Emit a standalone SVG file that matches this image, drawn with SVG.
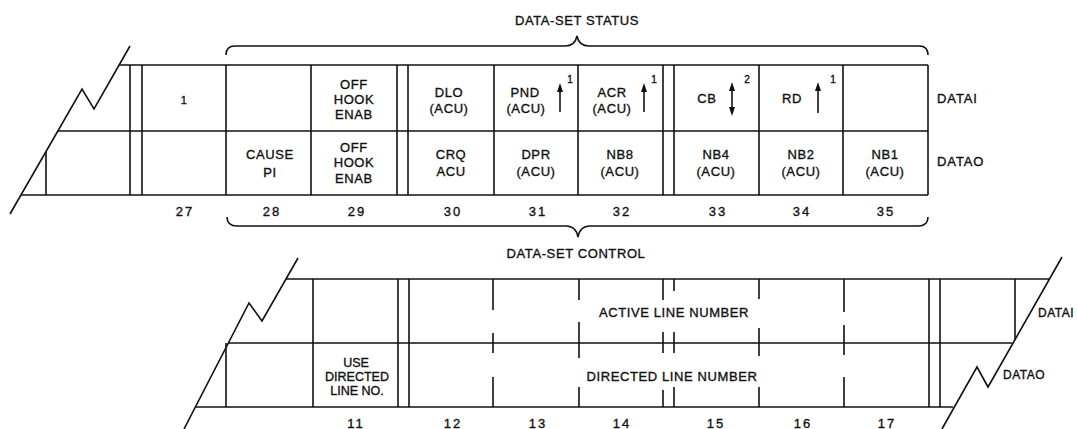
<svg xmlns="http://www.w3.org/2000/svg" width="1077" height="429" viewBox="0 0 1077 429">
<style>
.ln{stroke:#111;stroke-width:1.6;fill:none;stroke-linejoin:miter}
.t{font-family:"Liberation Sans",Arial,sans-serif;font-size:13px;letter-spacing:0.6px;fill:#111;stroke:#111;stroke-width:0.35px;text-anchor:middle}
.num{letter-spacing:2px}
.sup{font-size:10px;letter-spacing:0}
.lab{text-anchor:start;letter-spacing:0.9px}
.lab2{font-size:12px;text-anchor:start;letter-spacing:0.5px}
.ah{fill:#111;stroke:none}
</style>
<rect width="1077" height="429" fill="#fff"/>

<!-- ===== TOP REGISTER (DATAI / DATAO bits 27-35) ===== -->
<g id="top-frame" class="ln">
  <polyline points="10,214 82,89 94,109 130,46"/>
  <line x1="119" y1="65" x2="928" y2="65"/>
  <line x1="58" y1="131" x2="928" y2="131"/>
  <line x1="21" y1="195" x2="928" y2="195"/>
  <line x1="46" y1="152" x2="46" y2="195"/>
  <line x1="130" y1="65" x2="130" y2="195"/>
  <line x1="142" y1="65" x2="142" y2="195"/>
  <line x1="226" y1="65" x2="226" y2="195"/>
  <line x1="311" y1="65" x2="311" y2="195"/>
  <line x1="397" y1="65" x2="397" y2="195"/>
  <line x1="408" y1="65" x2="408" y2="195"/>
  <line x1="494" y1="65" x2="494" y2="195"/>
  <line x1="578" y1="65" x2="578" y2="195"/>
  <line x1="663" y1="65" x2="663" y2="195"/>
  <line x1="674" y1="65" x2="674" y2="195"/>
  <line x1="759" y1="65" x2="759" y2="195"/>
  <line x1="843" y1="65" x2="843" y2="195"/>
  <line x1="928" y1="65" x2="928" y2="195"/>
</g>

<g id="bit27">
  <text class="t" x="184" y="104" style="font-size:11px">1</text>
  <text class="t num" x="185" y="216">27</text>
</g>
<g id="bit28">
  <text class="t" x="270" y="159">CAUSE</text>
  <text class="t" x="270" y="177">PI</text>
  <text class="t num" x="272" y="216">28</text>
</g>
<g id="bit29">
  <text class="t" x="354" y="89">OFF</text>
  <text class="t" x="354" y="104">HOOK</text>
  <text class="t" x="354" y="119">ENAB</text>
  <text class="t" x="354" y="152">OFF</text>
  <text class="t" x="354" y="167">HOOK</text>
  <text class="t" x="354" y="183">ENAB</text>
  <text class="t num" x="357" y="216">29</text>
</g>
<g id="bit30">
  <text class="t" x="449" y="97">DLO</text>
  <text class="t" x="449" y="113">(ACU)</text>
  <text class="t" x="451" y="159">CRQ</text>
  <text class="t" x="451" y="176">ACU</text>
  <text class="t num" x="453" y="216">30</text>
</g>
<g id="bit31">
  <text class="t" x="525" y="97">PND</text>
  <text class="t" x="526" y="113">(ACU)</text>
  <line class="ln" x1="560" y1="90" x2="560" y2="112"/>
  <polygon class="ah" points="560,83 557,92 563,92"/>
  <text class="t sup" x="570" y="83">1</text>
  <text class="t" x="536" y="159">DPR</text>
  <text class="t" x="536" y="176">(ACU)</text>
  <text class="t num" x="538" y="216">31</text>
</g>
<g id="bit32">
  <text class="t" x="612" y="97">ACR</text>
  <text class="t" x="612" y="113">(ACU)</text>
  <line class="ln" x1="644" y1="90" x2="644" y2="112"/>
  <polygon class="ah" points="644,83 641,92 647,92"/>
  <text class="t sup" x="654" y="83">1</text>
  <text class="t" x="620" y="159">NB8</text>
  <text class="t" x="620" y="176">(ACU)</text>
  <text class="t num" x="622" y="216">32</text>
</g>
<g id="bit33">
  <text class="t" x="707" y="103">CB</text>
  <line class="ln" x1="732" y1="89" x2="732" y2="109"/>
  <polygon class="ah" points="732,82 729,91 735,91"/>
  <polygon class="ah" points="732,116 729,107 735,107"/>
  <text class="t sup" x="747" y="83">2</text>
  <text class="t" x="716" y="159">NB4</text>
  <text class="t" x="716" y="176">(ACU)</text>
  <text class="t num" x="718" y="216">33</text>
</g>
<g id="bit34">
  <text class="t" x="792" y="103">RD</text>
  <line class="ln" x1="818" y1="89" x2="818" y2="113"/>
  <polygon class="ah" points="818,82 815,91 821,91"/>
  <text class="t sup" x="833" y="83">1</text>
  <text class="t" x="801" y="159">NB2</text>
  <text class="t" x="801" y="176">(ACU)</text>
  <text class="t num" x="802" y="216">34</text>
</g>
<g id="bit35">
  <text class="t" x="885" y="159">NB1</text>
  <text class="t" x="885" y="176">(ACU)</text>
  <text class="t num" x="886" y="216">35</text>
</g>
<g id="top-labels">
  <text class="t lab" x="937" y="103">DATAI</text>
  <text class="t lab" x="937" y="166">DATAO</text>
</g>

<!-- braces -->
<g id="status-brace">
  <path class="ln" d="M226,55 Q226,46 235,46 L565,46 Q575,46 577,36 Q579,46 589,46 L919,46 Q928,46 928,55"/>
  <text class="t" x="577" y="25">DATA-SET STATUS</text>
</g>
<g id="control-brace">
  <path class="ln" d="M227,217 Q227,226 237,226 L566,226 Q576,226 578,237 Q580,226 590,226 L918,226 Q928,226 928,217"/>
  <text class="t" x="576" y="258">DATA-SET CONTROL</text>
</g>

<!-- ===== BOTTOM REGISTER (bits 11-17) ===== -->
<g id="bottom-frame" class="ln">
  <polyline points="184,429 249,303 262,321 298,258"/>
  <polyline points="1062,257 988,387 977,367 942,429"/>
  <line x1="286" y1="279" x2="1050" y2="279"/>
  <line x1="228" y1="343" x2="1012" y2="343"/>
  <line x1="196" y1="407" x2="953" y2="407"/>
  <line x1="226" y1="343" x2="226" y2="407"/>
  <line x1="313" y1="279" x2="313" y2="407"/>
  <line x1="398" y1="279" x2="398" y2="407"/>
  <line x1="409" y1="279" x2="409" y2="407"/>
  <path d="M493,279V310M493,333V353M493,377V407"/>
  <path d="M579,279V300M579,322V358M579,387V407"/>
  <path d="M663,279V300M663,332V353M663,390V407"/>
  <path d="M674,279V291M674,332V353M674,387V407"/>
  <path d="M759,279V299M759,328V356M759,387V407"/>
  <path d="M844,279V312M844,325V355M844,377V407"/>
  <line x1="929" y1="279" x2="929" y2="407"/>
  <line x1="940" y1="279" x2="940" y2="407"/>
  <line x1="1015" y1="279" x2="1015" y2="340"/>
</g>
<g id="bit11">
  <text class="t" x="356" y="367" style="font-size:12.5px;letter-spacing:0">USE</text>
  <text class="t" x="357" y="381" style="font-size:12.5px;letter-spacing:0">DIRECTED</text>
  <text class="t" x="357" y="395" style="font-size:12.5px;letter-spacing:0">LINE NO.</text>
  <text class="t num" x="356" y="428">11</text>
</g>
<g id="bits12-17">
  <text class="t" x="674" y="317">ACTIVE LINE NUMBER</text>
  <text class="t" x="672" y="381">DIRECTED LINE NUMBER</text>
  <text class="t num" x="453" y="428">12</text>
  <text class="t num" x="538" y="428">13</text>
  <text class="t num" x="622" y="428">14</text>
  <text class="t num" x="716" y="428">15</text>
  <text class="t num" x="803" y="428">16</text>
  <text class="t num" x="887" y="428">17</text>
</g>
<g id="bottom-labels">
  <text class="t lab2" x="1038" y="317">DATAI</text>
  <text class="t lab2" x="1003" y="379">DATAO</text>
</g>
</svg>
